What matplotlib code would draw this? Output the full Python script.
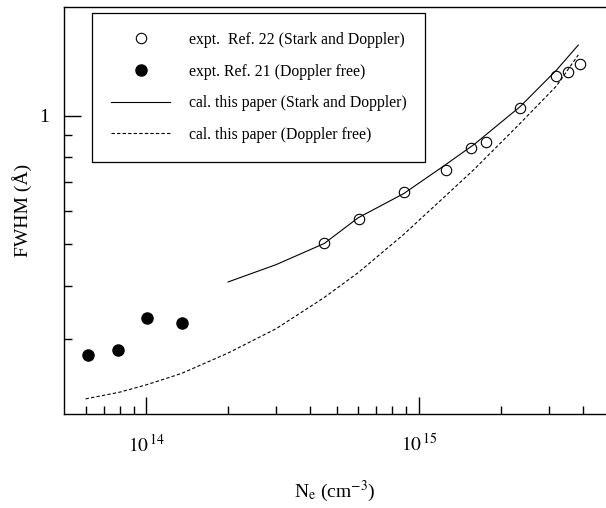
import matplotlib
matplotlib.use('Agg')
import matplotlib.pyplot as plt
from matplotlib.ticker import FixedLocator, NullFormatter, FixedFormatter

plt.rcParams['font.family'] = ['Liberation Serif', 'DejaVu Serif']
plt.rcParams['mathtext.fontset'] = 'stix'

# experimental points, Ref. 22 (Stark and Doppler)
ne_ref22 = [4.50e14, 6.03e14, 8.80e14, 1.255e15, 1.56e15, 1.77e15, 2.345e15, 3.18e15, 3.53e15, 3.90e15]
fwhm_ref22 = [0.503, 0.574, 0.664, 0.746, 0.839, 0.868, 1.042, 1.242, 1.265, 1.321]

# experimental points, Ref. 21 (Doppler free)
ne_ref21 = [6.12e13, 7.88e13, 1.004e14, 1.353e14]
fwhm_ref21 = [0.275, 0.282, 0.335, 0.327]

# calculation (Stark and Doppler)
ne_cal_sd = [2e14, 3e14, 4.5e14, 6e14, 8.8e14, 1.25e15, 1.6e15, 2.35e15, 3.2e15, 3.85e15]
fwhm_cal_sd = [0.408, 0.448, 0.502, 0.577, 0.657, 0.767, 0.858, 1.05, 1.28, 1.466]

# calculation (Doppler free)
ne_cal_df = [6e13, 8e13, 1e14, 1.35e14, 2e14, 3e14, 4.5e14, 6e14, 8.8e14, 1.25e15, 1.6e15, 2.35e15, 3.2e15, 3.85e15]
fwhm_cal_df = [0.217, 0.225, 0.234, 0.249, 0.278, 0.317, 0.375, 0.429, 0.527, 0.648, 0.750, 0.959, 1.175, 1.39]

fig = plt.figure(figsize=(6.06, 5.08), dpi=100)
ax = fig.add_axes([64 / 606, 94 / 508, 542 / 606, 407 / 508])

ax.plot(ne_ref22, fwhm_ref22, ls='none', marker='o', ms=7.5, mfc='white', mec='black', mew=0.8,
        label='expt.  Ref. 22 (Stark and Doppler)')
ax.plot(ne_ref21, fwhm_ref21, ls='none', marker='o', ms=8, mfc='black', mec='black',
        label='expt. Ref. 21 (Doppler free)')
ax.plot(ne_cal_sd, fwhm_cal_sd, color='black', lw=0.8, label='cal. this paper (Stark and Doppler)')
ax.plot(ne_cal_df, fwhm_cal_df, color='black', lw=0.8, dashes=(3, 2), label='cal. this paper (Doppler free)')

ax.set_xscale('log')
ax.set_yscale('log')
ax.set_xlim(5e13, 10 ** 15.687)
ax.set_ylim(0.2, 1.8)

ax.xaxis.set_major_locator(FixedLocator([1e14, 1e15]))
ax.xaxis.set_major_formatter(FixedFormatter([r'$10^{\,14}$', r'$10^{\,15}$']))
ax.xaxis.set_minor_locator(FixedLocator([6e13, 7e13, 8e13, 9e13] + [k * 1e14 for k in range(2, 10)]
                                        + [2e15, 3e15, 4e15]))
ax.xaxis.set_minor_formatter(NullFormatter())
ax.yaxis.set_major_locator(FixedLocator([1.0]))
ax.yaxis.set_major_formatter(FixedFormatter(['1']))
ax.yaxis.set_minor_locator(FixedLocator([0.3, 0.4, 0.5, 0.6, 0.7, 0.8, 0.9]))
ax.yaxis.set_minor_formatter(NullFormatter())

ax.tick_params(which='both', direction='in', top=False, right=False, width=1.0, labelsize=14)
ax.tick_params(which='major', length=12)
ax.tick_params(which='minor', length=6)
ax.tick_params(axis='x', pad=14)
ax.tick_params(axis='y', pad=11)

for s in ax.spines.values():
    s.set_linewidth(1.0)
ax.spines['right'].set_visible(False)

ax.set_xlabel(r'N$_\mathrm{e}$ (cm$^\mathrm{-3}$)', fontsize=14, labelpad=17)
ax.set_ylabel('FWHM (Å)', fontsize=14, labelpad=5)

leg = ax.legend(loc='upper left', bbox_to_anchor=(28 / 542, 401 / 407), fontsize=11.3,
                frameon=True, fancybox=False, edgecolor='black', framealpha=1,
                borderpad=1.2, labelspacing=1.0, handlelength=3.8, handletextpad=1.15,
                borderaxespad=0)
leg.get_frame().set_linewidth(0.9)

fig.savefig('out.png', dpi=100)
